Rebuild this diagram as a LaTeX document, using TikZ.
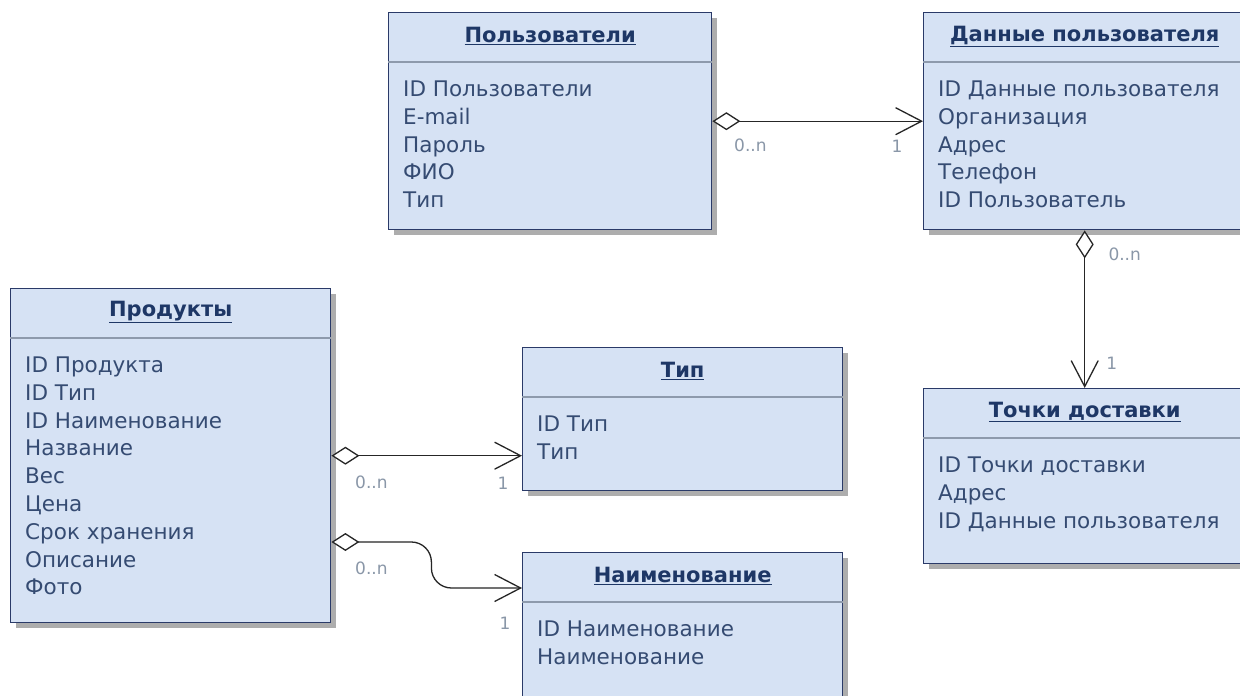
\documentclass[tikz,border=0pt]{standalone}
\usepackage{fontspec}
\setmainfont{DejaVu Sans}
\usepackage{xcolor}
\usetikzlibrary{arrows.meta,calc,shadows,positioning}
\definecolor{boxfill}{HTML}{D6E2F4}
\definecolor{boxline}{HTML}{2A3A68}
\definecolor{titletext}{HTML}{1E3766}
\definecolor{itemtext}{HTML}{354B72}
\definecolor{sepgray}{HTML}{8E9AAC}
\definecolor{multgray}{HTML}{8A97A8}
\tikzstyle{entity}=[draw=boxline, fill=boxfill, line width=1.4, inner sep=0, anchor=north west,
  drop shadow={shadow xshift=5pt, shadow yshift=-5pt, opacity=1, fill=black!32}]
\tikzstyle{tabtitle}=[font=\fontsize{21}{25}\selectfont\bfseries, text=titletext, inner sep=0]
\tikzstyle{tabitem}=[anchor=west, inner sep=0, font=\fontsize{21.5}{25}\selectfont, text=itemtext,
  text height=15pt, text depth=4pt]
\tikzstyle{seprule}=[draw=sepgray, line width=1.2]
\tikzstyle{mult}=[font=\fontsize{17}{20}\selectfont, text=multgray, inner sep=0]
\tikzstyle{assoc}=[line width=1.3, draw=black!85,
  {Diamond[fill=white, length=28pt, width=18pt]}-{Straight Barb[length=26pt, width=27pt]}]
% one table: name, x, y, width, height, title, rows
\newcommand{\umltable}[7]{%
  \node (#1) [entity, minimum width=#4pt, minimum height=#5pt] at (#2,#3) {};
  \node (#1-title) [tabtitle] at ([yshift=-24pt]#1.north) {\underline{#6}};
  \draw[seprule] ([yshift=-50pt]#1.north west) -- ([yshift=-50pt]#1.north east);
  \foreach \txt [count=\i from 0] in {#7}
    \node (#1-\i) [tabitem] at ($(#1.north west)+(15,79+27.8*\i)$) {\txt};
}

\begin{document}
\begin{tikzpicture}[x=1pt, y=-1pt]
    \fill[white] (0,0) rectangle (1240,696);
    \useasboundingbox (0,0) rectangle (1240,696);

    \umltable{polz}{388}{12}{323}{217}{Пользователи}{ID Пользователи, E-mail, Пароль, ФИО, Тип}
    \umltable{dannye}{923}{12}{322}{217}{Данные пользователя}{ID Данные пользователя, Организация, Адрес, Телефон, ID Пользователь}
    \umltable{prod}{10}{288}{320}{334}{Продукты}{ID Продукта, ID Тип, ID Наименование, Название, Вес, Цена, Срок хранения, Описание, Фото}
    \umltable{tip}{522}{347}{320}{143}{Тип}{ID Тип, Тип}
    \umltable{naim}{522}{552}{320}{170}{Наименование}{ID Наименование, Наименование}
    \umltable{tochki}{923}{388}{322}{175}{Точки доставки}{ID Точки доставки, Адрес, ID Данные пользователя}

    \draw[assoc] (polz.east) -- (dannye.west)
      node[mult, at start, xshift=38pt, yshift=-24pt] {0..n}
      node[mult, at end, xshift=-26pt, yshift=-25pt] {1};
    \draw[assoc] (dannye.south) -- (tochki.north)
      node[mult, at start, xshift=40pt, yshift=-24pt] {0..n}
      node[mult, at end, xshift=27pt, yshift=25pt] {1};
    \draw[assoc] (prod.east) -- (prod.east -| tip.west)
      node[mult, at start, xshift=40pt, yshift=-27pt] {0..n}
      node[mult, at end, xshift=-19pt, yshift=-28pt] {1};
    \draw[assoc, rounded corners=20pt] ([yshift=-254pt]prod.north east)
      node[mult, xshift=40pt, yshift=-26pt] {0..n}
      -- ++(100,0) |- ([yshift=-36pt]naim.north west)
      node[mult, xshift=-17pt, yshift=-35pt] {1};
\end{tikzpicture}
\end{document}
